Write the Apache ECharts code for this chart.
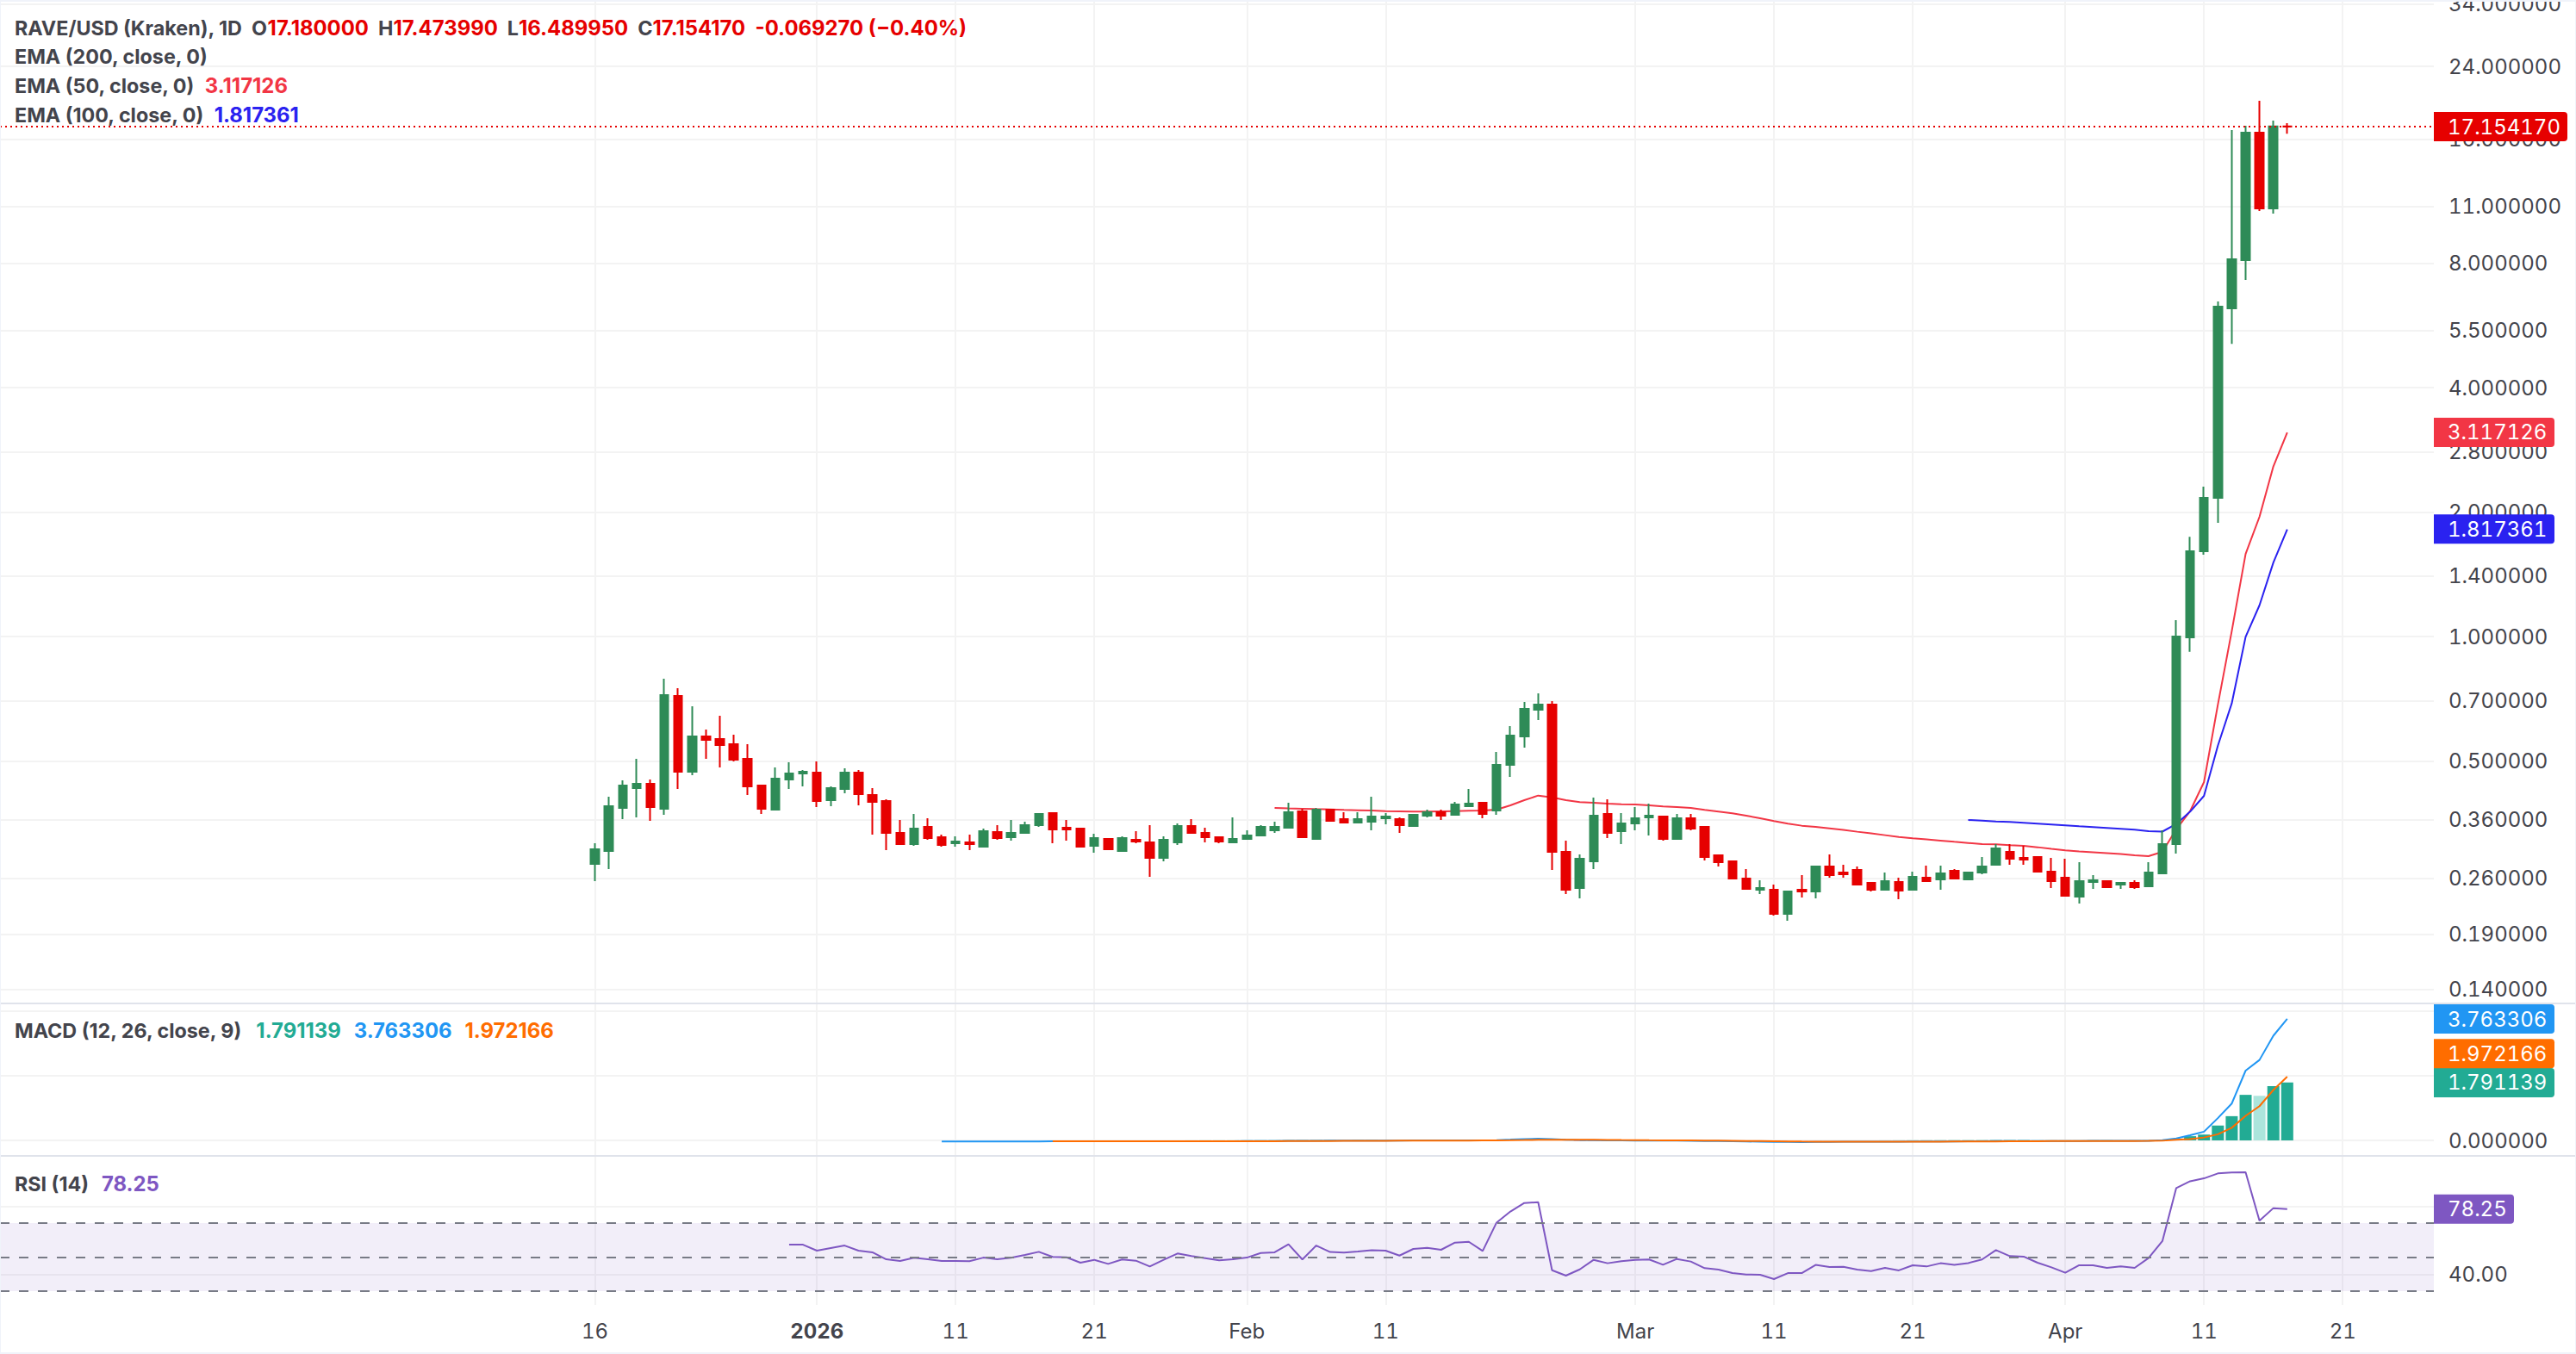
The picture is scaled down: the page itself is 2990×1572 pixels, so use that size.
<!DOCTYPE html>
<html><head><meta charset="utf-8">
<style>html,body{margin:0;padding:0;background:#fff}#c{width:2990px;height:1572px}
#c text[style*="24px"]{font-variant-numeric:tabular-nums!important;font-feature-settings:"tnum" 1!important}</style>
<script src="https://cdn.jsdelivr.net/npm/echarts@6/dist/echarts.min.js"></script>
</head><body><div id="c"></div>
<script>
// ---------- values (daily, first bar 2025-12-16 = day 0) ----------
const firstDay = Date.UTC(2025, 11, 16);
const opens = [.2817,.3027,.3847,.4296,.4400,.3829,.7181,.4706,.5731,.5648,.5488,.5057,.4358,.3810,.4507,.4662,.4684,.4017,.4275,.4684,.4134,.3998,.3348,.3145,.3462,.3268,.3160,.3175,.3100,.3364,.3268,.3348,.3495,.3738,.3445,.3429,.3115,.3237,.3027,.3222,.3175,.2913,.3175,.3479,.3348,.3268,.3175,.3237,.3299,.3396,.3445,.3774,.3237,.3810,.3615,.3546,.3563,.3632,.3615,.3479,.3684,.3756,.3702,.3884,.3959,.3792,.4891,.5731,.6650,.6844,.3013,.2462,.2857,.3720,.3380,.3529,.3649,.3667,.3237,.3632,.3462,.2955,.2857,.2596,.2439,.2439,.2132,.2439,.2415,.2776,.2684,.2723,.2534,.2439,.2546,.2439,.2607,.2583,.2710,.2583,.2684,.2803,.3013,.2913,.2927,.2697,.2607,.2347,.2546,.2558,.2510,.2534,.2485,.2671,.3144,.995,1.608,2.166,6.23,8.15,16.58,10.87,17.18];
const highs = [.3160,.4095,.4485,.5057,.4507,.7904,.7497,.6778,.5954,.6430,.5785,.5488,.4379,.4821,.4961,.4752,.4985,.4337,.4798,.4752,.4296,.4036,.3597,.3720,.3632,.3315,.3284,.3315,.3429,.3495,.3597,.3563,.3738,.3756,.3597,.3429,.3332,.3237,.3284,.3380,.3495,.3284,.3529,.3615,.3445,.3284,.3649,.3396,.3495,.3563,.3959,.3829,.3847,.3829,.3756,.3756,.4095,.3738,.3649,.3720,.3810,.3810,.3979,.4275,.3959,.5255,.6070,.6943,.7284,.6977,.3206,.2969,.4075,.4036,.3738,.3866,.3941,.3667,.3720,.3720,.3479,.2969,.2857,.2736,.2571,.2510,.2427,.2645,.2776,.2969,.2803,.2776,.2546,.2684,.2607,.2697,.2790,.2790,.2736,.2697,.2927,.3145,.3145,.3115,.2941,.2913,.2899,.2843,.2645,.2571,.2546,.2571,.2843,.3395,1.095,1.743,2.305,6.47,16.82,17.23,19.81,17.74,17.47399];
const lows = [.2558,.2736,.3615,.3649,.3580,.3702,.4275,.4617,.5057,.4821,.4985,.4134,.3720,.3792,.4275,.4337,.3866,.3884,.4174,.3903,.3315,.3041,.3145,.3115,.3222,.3100,.3100,.3041,.3100,.3222,.3206,.3348,.3462,.3160,.3206,.3085,.2998,.3041,.3027,.3160,.2620,.2857,.3130,.3332,.3175,.3160,.3175,.3237,.3299,.3348,.3445,.3268,.3237,.3563,.3529,.3546,.3396,.3512,.3348,.3462,.3649,.3597,.3702,.3866,.3632,.3702,.4573,.5384,.6277,.2723,.2381,.2325,.2736,.3253,.3145,.3396,.3299,.3206,.3237,.3396,.2871,.2776,.2583,.2450,.2381,.2111,.2052,.2336,.2325,.2607,.2607,.2498,.2415,.2439,.2313,.2439,.2558,.2439,.2583,.2583,.2658,.2790,.2803,.2803,.2697,.2462,.2358,.2258,.2450,.2462,.2450,.2450,.2485,.2671,.2982,.9187,1.578,1.885,5.11,7.30,10.72,10.56,16.48995];
const closes = [.3056,.3884,.4358,.4400,.3866,.7215,.4706,.5731,.5621,.5462,.5033,.4337,.3829,.4529,.4662,.4706,.3998,.4296,.4684,.4154,.3979,.3348,.3145,.3429,.3253,.3130,.3190,.3145,.3380,.3253,.3348,.3495,.3720,.3413,.3413,.3100,.3253,.3056,.3253,.3190,.2913,.3222,.3479,.3348,.3268,.3190,.3237,.3299,.3462,.3462,.3756,.3268,.3810,.3580,.3546,.3615,.3667,.3667,.3495,.3702,.3756,.3684,.3922,.3941,.3720,.4891,.5758,.6682,.6844,.3013,.2439,.2899,.3684,.3348,.3529,.3632,.3684,.3237,.3632,.3429,.2927,.2843,.2596,.2450,.2462,.2132,.2415,.2415,.2776,.2645,.2658,.2510,.2439,.2558,.2427,.2620,.2558,.2671,.2596,.2684,.2776,.3070,.2899,.2885,.2697,.2558,.2358,.2558,.2571,.2474,.2534,.2474,.2684,.3144,1.0,1.608,2.166,6.29,8.19,16.58,10.87,17.18,17.15417];

const ema50Start = 49;
const ema50 = [.3847,.3836,.3829,.3822,.3816,.3804,.3798,.3792,.3780,.3774,.3768,.3768,.3774,.3780,.3786,.3792,.3810,.3903,.4017,.4121,.4081,.4017,.3973,.3959,.3941,.3928,.3922,.3903,.3878,.3866,.3847,.3804,.3768,.3732,.3684,.3632,.3574,.3523,.3484,.3462,.3434,.3402,.3369,.3337,.3305,.3273,.3247,.3227,.3206,.3185,.3165,.3145,.3140,.3125,.3115,.3090,.3061,.3036,.3017,.3003,.2989,.2974,.2955,.2941,.3011,.3415,.3779,.4443,.684,1.03,1.585,1.949,2.58,3.117126];
const ema100Start = 99;
const ema100 = [.3597,.3585,.3568,.3557,.3540,.3523,.3507,.3490,.3473,.3457,.3440,.3424,.3407,.3379,.3371,.3516,.3767,.4114,.5441,.6887,.998,1.19,1.51,1.817361];

const macdStart = 25;
const macdLine = [-.030,-.033,-.035,-.036,-.036,-.035,-.033,-.031,-.029,
 -.028,-.028,-.028,-.028,-.028,-.028,-.029,-.029,-.028,-.027,-.026,-.026,-.025,-.023,
 -.021,-.019,-.016,-.014,-.011,-.009,-.008,-.006,-.005,-.004,-.004,-.003,-.002,-.002,-.001,.000,.001,
 .010,.024,.040,.052,.040,.022,.010,.006,.001,-.002,-.004,
 -.005,-.007,-.008,-.012,-.017,-.023,-.029,-.035,-.040,-.046,-.049,-.050,-.046,-.044,-.042,
 -.041,-.040,-.039,-.038,-.036,-.034,-.032,-.030,-.028,-.026,-.022,-.020,-.018,-.017,-.017,-.017,-.017,-.016,-.015,-.015,-.014,-.013,
 .010,.06,.16,.27,.69,1.14,2.16,2.49,3.24,3.763306];
const signalStart = 33;
const signalLine = [-.027,-.028,-.028,-.028,-.028,-.028,-.028,-.028,-.028,-.028,-.028,-.028,-.027,-.027,-.026,
 -.025,-.024,-.022,-.021,-.019,-.017,-.015,-.013,-.012,-.010,-.009,-.008,-.007,-.006,-.005,-.004,-.003,
 -.001,.004,.011,.019,.023,.023,.021,.018,.015,.011,.008,
 .005,.003,.001,-.002,-.005,-.009,-.013,-.017,-.022,-.027,-.031,-.035,-.037,-.039,-.040,
 -.040,-.040,-.040,-.040,-.039,-.038,-.037,-.036,-.034,-.033,-.031,-.029,-.027,-.025,-.023,-.022,-.021,-.020,-.019,-.018,-.017,-.016,
 -.010,.02,.04,.09,.19,.39,.76,1.06,1.56,1.972166];
const histogram = [-.002,0,0,0,0,0,0,-.001,-.001,0,.001,.002,.002,.002,.003,
 .004,.005,.006,.007,.008,.008,.007,.007,.007,.006,.005,.005,.005,.004,.004,.004,.004,
 .011,.020,.029,.033,.017,-.001,-.011,-.012,-.014,-.013,-.012,
 -.010,-.010,-.009,-.010,-.012,-.014,-.016,-.018,-.018,-.019,-.018,-.015,-.009,-.005,-.002,
 -.001,0,.001,.002,.003,.004,.005,.006,.006,.007,.009,.009,.009,.008,.006,.005,.004,.004,.004,.003,.003,.003,
 .02,.04,.13,.18,.46,.75,1.41,1.38,1.68,1.791139];
const rsiStart = 14;
const rsi = [57.3,57.3,53.8,55.3,56.8,53.8,52.8,48.7,47.7,49.6,48.7,47.7,47.7,47.6,49.7,48.7,49.6,51.3,53.1,50.1,49.9,46.7,48.4,46.0,
 48.6,47.9,44.5,48.4,52.1,50.6,49.4,48.1,48.7,49.7,52.4,52.8,57.5,48.6,56.8,53.0,52.6,53.3,54.1,53.8,50.9,54.8,55.5,54.3,58.5,59.0,53.6,70.3,76.8,81.8,82.3,
 42.3,39.1,42.8,48.4,46.4,47.6,48.4,48.6,45.5,48.9,47.4,43.5,42.7,40.6,39.8,39.6,37.1,40.6,40.6,45.4,44.2,44.3,42.7,41.8,43.7,42.2,45.2,44.5,46.4,45.4,46.5,48.6,54.1,50.6,50.3,46.7,44.0,40.8,45.2,45.2,43.7,44.5,43.7,49.4,
 59.4,90.6,94.6,96.3,99.2,99.7,99.9,71.4,78.8,78.25];

const priceTicks = [34,24,16,11,8,5.5,4,2.8,2,1.4,1,.7,.5,.36,.26,.19,.14];
const macdTicks = [0,2,4];
const rsiTicks = [40,80];
const dateTicks = [[2025,11,16,'16'],[2026,0,1,'2026'],[2026,0,11,'11'],[2026,0,21,'21'],[2026,1,1,'Feb'],[2026,1,11,'11'],[2026,2,1,'Mar'],[2026,2,11,'11'],[2026,2,21,'21'],[2026,3,1,'Apr'],[2026,3,11,'11'],[2026,3,21,'21']];

// ---------- helpers ----------
const DAY = 86400000;
const zip = (arr, start) => arr.map((v, i) => [start + i, v]);
const dayOf = d => Math.round((Date.UTC(d[0], d[1], d[2]) - firstDay) / DAY);
const tickDays = dateTicks.map(dayOf);
const tickText = new Map(dateTicks.map(d => [dayOf(d), d[3]]));

const FONT = 'Inter';
const TXT = '#43444c', GRID = '#f3f3f3';
const GREEN = '#2e8b57', RED = '#e60000', E50 = '#f23645', E100 = '#2a22f0';
const TEAL = '#22ab94', BLUE = '#2196f3', ORANGE = '#ff6d00', PURPLE = '#7e57c2';

const xMin = -42.89, xMax = 132.57;
const PLOT_W = 2825;
const grids = [
  {left: 0, top: 0, width: PLOT_W, height: 1165, outerBoundsMode: 'none'},
  {left: 0, top: 1165, width: PLOT_W, height: 177, outerBoundsMode: 'none'},
  {left: 0, top: 1342, width: PLOT_W, height: 173, outerBoundsMode: 'none'}
];
const xAxis = grids.map((g, i) => ({
  type: 'value', gridIndex: i, min: xMin, max: xMax,
  axisLine: {show: false},
  axisTick: {show: false, customValues: tickDays},
  splitLine: {show: true, lineStyle: {color: GRID, width: 2}},
  axisLabel: i === 2 ? {
    show: true, customValues: tickDays, margin: 18, fontFamily: FONT, fontSize: 24, color: TXT, hideOverlap: false,
    formatter: v => { const s = tickText.get(Math.round(+v)) || ''; return s === '2026' ? '{b|2026}' : s; },
    rich: {b: {fontFamily: FONT, fontSize: 24, fontWeight: 700, color: TXT}}
  } : {show: false}
}));
const yBase = (i, extra, ticks, dec) => Object.assign({
  gridIndex: i, position: 'right',
  axisLine: {show: false},
  axisTick: {show: false, customValues: ticks},
  splitLine: {show: true, lineStyle: {color: GRID, width: 2}},
  axisLabel: {show: true, customValues: ticks, inside: false, margin: 17, align: 'left', fontFamily: FONT, fontSize: 24, color: TXT, hideOverlap: false,
    formatter: v => Number(v).toFixed(dec)}
}, extra);
const yAxis = [
  yBase(0, {type: 'log', logBase: 10, min: Math.exp(-426 / 208.3), max: Math.exp(739 / 208.3)}, priceTicks, 6),
  yBase(1, {type: 'value', min: -18 / 37.5, max: 159 / 37.5}, macdTicks, 6),
  yBase(2, {type: 'value', min: 21.9, max: 109.5}, rsiTicks, 2)
];

const badgeLabel = (color, text, offY) => {
  const w = text.length === 9 ? 126 : text.length === 8 ? 111 : 64;
  return {
    show: true, position: 'end', distance: 0, formatter: text, color: '#fff',
    fontFamily: FONT, fontSize: 24, backgroundColor: color, width: w, height: 24,
    padding: [5, 13, 5, 16], lineHeight: 24, borderRadius: [0, 4, 4, 0], align: 'left', verticalAlign: 'middle',
    offset: [0, offY || 0]
  };
};
const badge = (value, color, text, offY) => ({
  yAxis: value,
  lineStyle: {color: 'rgba(0,0,0,0)', width: 0},
  label: badgeLabel(color, text, offY)
});
const ml = data => ({silent: true, symbol: 'none', animation: false, data});

const histData = histogram.map((v, i) => {
  const prev = i ? histogram[i - 1] : 0;
  const color = v >= 0 ? (v >= prev ? TEAL : '#ace5dc') : (v >= prev ? '#ffcdd2' : '#ff5252');
  return {value: [signalStart + i, v], itemStyle: {color}};
});

const series = [
  {name: 'EMA 50', type: 'line', xAxisIndex: 0, yAxisIndex: 0, z: 3, showSymbol: false, symbol: 'none', data: zip(ema50, ema50Start),
   lineStyle: {color: E50, width: 2}, markLine: ml([badge(3.117126, E50, '3.117126')])},
  {name: 'EMA 100', type: 'line', xAxisIndex: 0, yAxisIndex: 0, z: 3, showSymbol: false, symbol: 'none', data: zip(ema100, ema100Start),
   lineStyle: {color: E100, width: 2}, markLine: ml([badge(1.817361, E100, '1.817361')])},
  {name: 'RAVE/USD', type: 'candlestick', xAxisIndex: 0, yAxisIndex: 0, z: 4, barWidth: 10, progressive: 0,
   data: opens.map((o, i) => [i, o, closes[i], lows[i], highs[i]]),
   itemStyle: {color: GREEN, color0: RED, borderColor: GREEN, borderColor0: RED, borderWidth: 2},
   markLine: ml([{yAxis: closes[closes.length - 1],
     lineStyle: {color: RED, width: 2, type: [2, 4], opacity: 1},
     label: badgeLabel(RED, '17.154170')}])},
  {name: 'Histogram', type: 'bar', xAxisIndex: 1, yAxisIndex: 1, z: 2, barWidth: 14, data: histData,
   markLine: ml([badge(1.791139, TEAL, '1.791139')])},
  {name: 'MACD', type: 'line', xAxisIndex: 1, yAxisIndex: 1, z: 3, showSymbol: false, symbol: 'none', data: zip(macdLine, macdStart),
   lineStyle: {color: BLUE, width: 2}, markLine: ml([badge(3.763306, BLUE, '3.763306')])},
  {name: 'Signal', type: 'line', xAxisIndex: 1, yAxisIndex: 1, z: 3, showSymbol: false, symbol: 'none', data: zip(signalLine, signalStart),
   lineStyle: {color: ORANGE, width: 2}, markLine: ml([badge(1.972166, ORANGE, '1.972166', -27)])},
  {name: 'RSI', type: 'line', xAxisIndex: 2, yAxisIndex: 2, z: 3, showSymbol: false, symbol: 'none', data: zip(rsi, rsiStart),
   lineStyle: {color: PURPLE, width: 2},
   markArea: {silent: true, itemStyle: {color: 'rgba(126,87,194,0.1)'}, data: [[{yAxis: 70}, {yAxis: 30}]]},
   markLine: ml([
     ...[70, 50, 30].map(v => ({yAxis: v, lineStyle: {color: '#787b86', width: 2, type: [11, 11]}, label: {show: false}})),
     badge(78.25, PURPLE, '78.25')
   ])}
];

// ---------- legends ----------
const LS = 23.3, LN = 23.9;
const rich = {
  t: {color: TXT, fontFamily: FONT, fontSize: LS},
  g: {fontFamily: FONT, fontSize: LS, width: 15},
  r: {color: RED, fontFamily: FONT, fontSize: LN},
  e: {color: E50, fontFamily: FONT, fontSize: LN},
  b: {color: E100, fontFamily: FONT, fontSize: LN},
  te: {color: TEAL, fontFamily: FONT, fontSize: LN},
  bl: {color: BLUE, fontFamily: FONT, fontSize: LN},
  o: {color: ORANGE, fontFamily: FONT, fontSize: LN},
  p: {color: PURPLE, fontFamily: FONT, fontSize: LN}
};
const leg = (text, top) => ({left: 17, top, padding: 0, text, textStyle: {rich, fontFamily: FONT, fontSize: LS, lineHeight: 28}});
const title = [
  leg('{t|RAVE/USD (Kraken), 1D  O}{r|17.180000}{t|  H}{r|17.473990}{t|  L}{r|16.489950}{t|  C}{r|17.154170}{r|  -0.069270 (−0.40%)}', 18),
  leg('{t|EMA (200, close, 0)}', 51),
  leg('{t|EMA (50, close, 0)}  {e|3.117126}', 85),
  leg('{t|EMA (100, close, 0)}  {b|1.817361}', 119),
  leg('{t|MACD (12, 26, close, 9)}{g| }{te|1.791139}{g| }{bl|3.763306}{g| }{o|1.972166}', 1182),
  leg('{t|RSI (14)}{g| }{p|78.25}', 1360)
];

const rule = (x, y, w, h, color) => ({type: 'rect', shape: {x, y, width: w, height: h}, style: {fill: color}, silent: true, z: 100});
const graphic = {elements: [
  rule(0, 0, 2990, 2, '#f0f3fa'),
  rule(0, 1164, 2990, 2, '#e0e3eb'),
  rule(0, 1341, 2990, 2, '#e0e3eb'),
  rule(0, 1570, 2990, 2, '#f0f3fa'),
  rule(0, 0, 1, 1572, '#f0f3fa'),
  rule(2989, 0, 1, 1572, '#f0f3fa')
]};

const chart = echarts.init(document.getElementById('c'), null, {renderer: 'svg', width: 2990, height: 1572});
chart.setOption({
  animation: false, backgroundColor: '#fff',
  title, grid: grids, xAxis, yAxis, series, graphic,
  tooltip: {show: false}, legend: {show: false}
});
</script></body></html>
